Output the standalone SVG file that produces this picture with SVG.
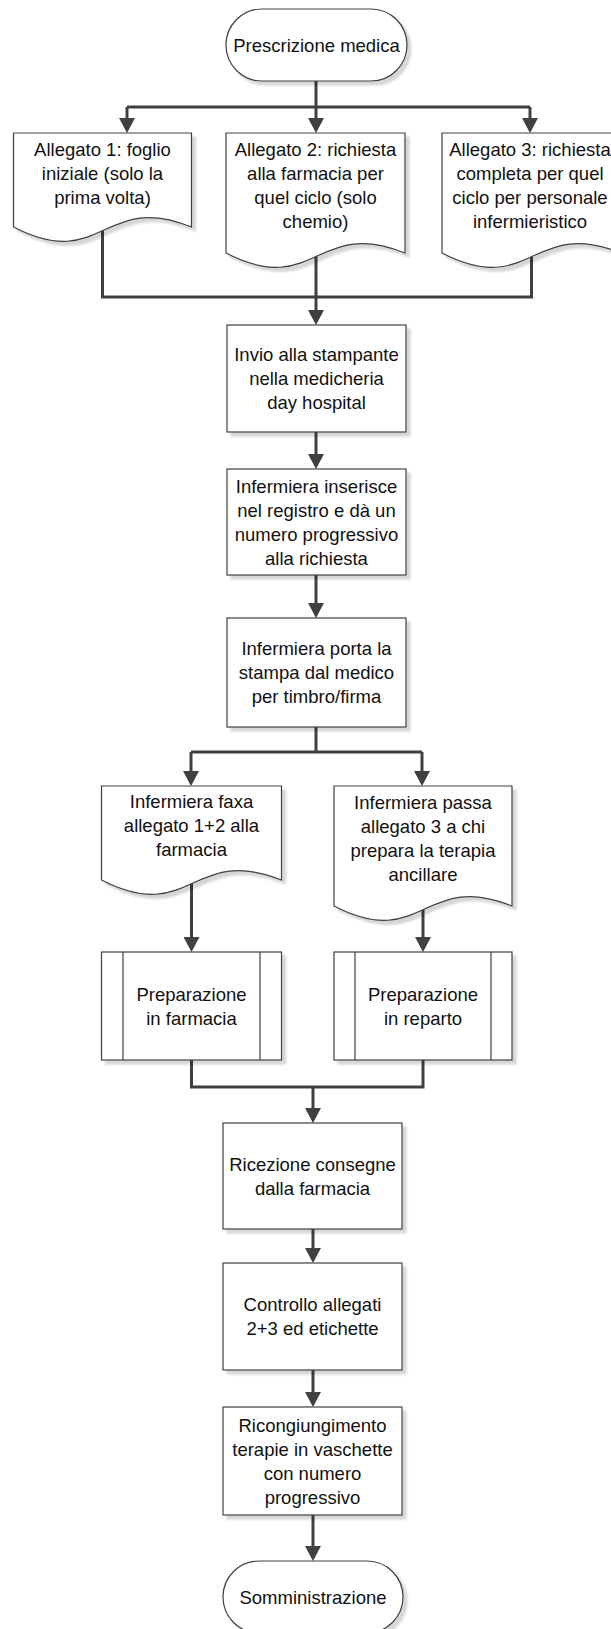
<svg xmlns="http://www.w3.org/2000/svg" width="611" height="1629" viewBox="0 0 611 1629">
<style>
.s{fill:#fff;stroke:#404040;stroke-width:1.2;filter:url(#sh)}
.l{fill:none;stroke:#404040;stroke-width:1.2}
.c{fill:none;stroke:#404040;stroke-width:3}
.a{marker-end:url(#ah)}
text{font-family:"Liberation Sans",Arial,sans-serif;font-size:18.5px;fill:#111;text-anchor:middle;dominant-baseline:central}
</style>
<defs>
<filter id="sh" x="-10%" y="-10%" width="130%" height="140%">
<feOffset in="SourceAlpha" dx="4" dy="4" result="o"/>
<feGaussianBlur in="o" stdDeviation="1" result="b"/>
<feColorMatrix in="b" type="matrix" values="0 0 0 0 0  0 0 0 0 0  0 0 0 0 0  0 0 0 0.16 0" result="s"/>
<feMerge><feMergeNode in="s"/><feMergeNode in="SourceGraphic"/></feMerge>
</filter>
<marker id="ah" viewBox="0 0 15 16" refX="12" refY="8" markerWidth="15" markerHeight="16" markerUnits="userSpaceOnUse" orient="auto">
<path d="M0,0 L15,8 L0,16 Z" fill="#404040"/>
</marker>
</defs>

<g id="connectors">
<path class="c" d="M316,81 V107"/>
<path class="c" d="M127,107 H530"/>
<path class="c a" d="M127,107 V130"/>
<path class="c a" d="M316,107 V130"/>
<path class="c a" d="M530,107 V130"/>
<path class="c" d="M102.5,229 V297 H531.5 V255"/>
<path class="c a" d="M316,255 V322"/>
<path class="c a" d="M316,432 V466"/>
<path class="c a" d="M316,575 V615"/>
<path class="c" d="M316,727 V752"/>
<path class="c" d="M191,752 H422"/>
<path class="c a" d="M191,752 V783"/>
<path class="c a" d="M422,752 V783"/>
<path class="c a" d="M191.5,882 V949"/>
<path class="c a" d="M423,908 V949"/>
<path class="c" d="M191.5,1060 V1087 H423 V1060"/>
<path class="c a" d="M313,1087 V1120"/>
<path class="c a" d="M313,1229 V1260"/>
<path class="c a" d="M313,1370 V1404"/>
<path class="c a" d="M313,1515 V1558"/>
</g>

<g id="start">
<rect class="s" x="226" y="9" width="181" height="72" rx="36" ry="36"/>
<text x="316.5" y="45">Prescrizione medica</text>
</g>

<g id="allegato1">
<path class="s" d="M13.5,133 H191.5 V227 C102.5,191 102.5,273 13.5,227 Z"/>
<text x="102.5" y="149">Allegato 1: foglio</text>
<text x="102.5" y="173">iniziale (solo la</text>
<text x="102.5" y="197">prima volta)</text>
</g>

<g id="allegato2">
<path class="s" d="M226,133 H405 V253 C315.5,217 315.5,299 226,253 Z"/>
<text x="315.5" y="149">Allegato 2: richiesta</text>
<text x="315.5" y="173">alla farmacia per</text>
<text x="315.5" y="197">quel ciclo (solo</text>
<text x="315.5" y="221">chemio)</text>
</g>

<g id="allegato3">
<path class="s" d="M442,133 H621 V253 C531.5,217 531.5,299 442,253 Z"/>
<text x="530" y="149">Allegato 3: richiesta</text>
<text x="530" y="173">completa per quel</text>
<text x="530" y="197">ciclo per personale</text>
<text x="530" y="221">infermieristico</text>
</g>

<g id="invio">
<rect class="s" x="227" y="325" width="179" height="107"/>
<text x="316.5" y="354.5">Invio alla stampante</text>
<text x="316.5" y="378.5">nella medicheria</text>
<text x="316.5" y="402.5">day hospital</text>
</g>

<g id="registro">
<rect class="s" x="227" y="469" width="179" height="106"/>
<text x="316.5" y="486">Infermiera inserisce</text>
<text x="316.5" y="510">nel registro e dà un</text>
<text x="316.5" y="534">numero progressivo</text>
<text x="316.5" y="558">alla richiesta</text>
</g>

<g id="timbro">
<rect class="s" x="227" y="618" width="179" height="109"/>
<text x="316.5" y="648.5">Infermiera porta la</text>
<text x="316.5" y="672.5">stampa dal medico</text>
<text x="316.5" y="696.5">per timbro/firma</text>
</g>

<g id="fax">
<path class="s" d="M101.5,786 H281.5 V880 C191.5,844 191.5,926 101.5,880 Z"/>
<text x="191.5" y="801">Infermiera faxa</text>
<text x="191.5" y="825">allegato 1+2 alla</text>
<text x="191.5" y="849">farmacia</text>
</g>

<g id="passa">
<path class="s" d="M334,786 H512 V906 C423,870 423,952 334,906 Z"/>
<text x="423" y="802">Infermiera passa</text>
<text x="423" y="826">allegato 3 a chi</text>
<text x="423" y="850">prepara la terapia</text>
<text x="423" y="874">ancillare</text>
</g>

<g id="prepFarmacia">
<rect class="s" x="101.5" y="952" width="180" height="108"/>
<path class="l" d="M123,952 V1060 M260,952 V1060"/>
<text x="191.5" y="994">Preparazione</text>
<text x="191.5" y="1018">in farmacia</text>
</g>

<g id="prepReparto">
<rect class="s" x="334" y="952" width="178" height="108"/>
<path class="l" d="M355,952 V1060 M491,952 V1060"/>
<text x="423" y="994">Preparazione</text>
<text x="423" y="1018">in reparto</text>
</g>

<g id="ricezione">
<rect class="s" x="223" y="1123" width="179" height="106"/>
<text x="312.5" y="1164">Ricezione consegne</text>
<text x="312.5" y="1188">dalla farmacia</text>
</g>

<g id="controllo">
<rect class="s" x="223" y="1263" width="179" height="107"/>
<text x="312.5" y="1304.5">Controllo allegati</text>
<text x="312.5" y="1328.5">2+3 ed etichette</text>
</g>

<g id="ricongiungimento">
<rect class="s" x="223" y="1407" width="179" height="108"/>
<text x="312.5" y="1425">Ricongiungimento</text>
<text x="312.5" y="1449">terapie in vaschette</text>
<text x="312.5" y="1473">con numero</text>
<text x="312.5" y="1497">progressivo</text>
</g>

<g id="end">
<rect class="s" x="223" y="1561" width="180" height="72" rx="36" ry="36"/>
<text x="313" y="1597">Somministrazione</text>
</g>
</svg>
